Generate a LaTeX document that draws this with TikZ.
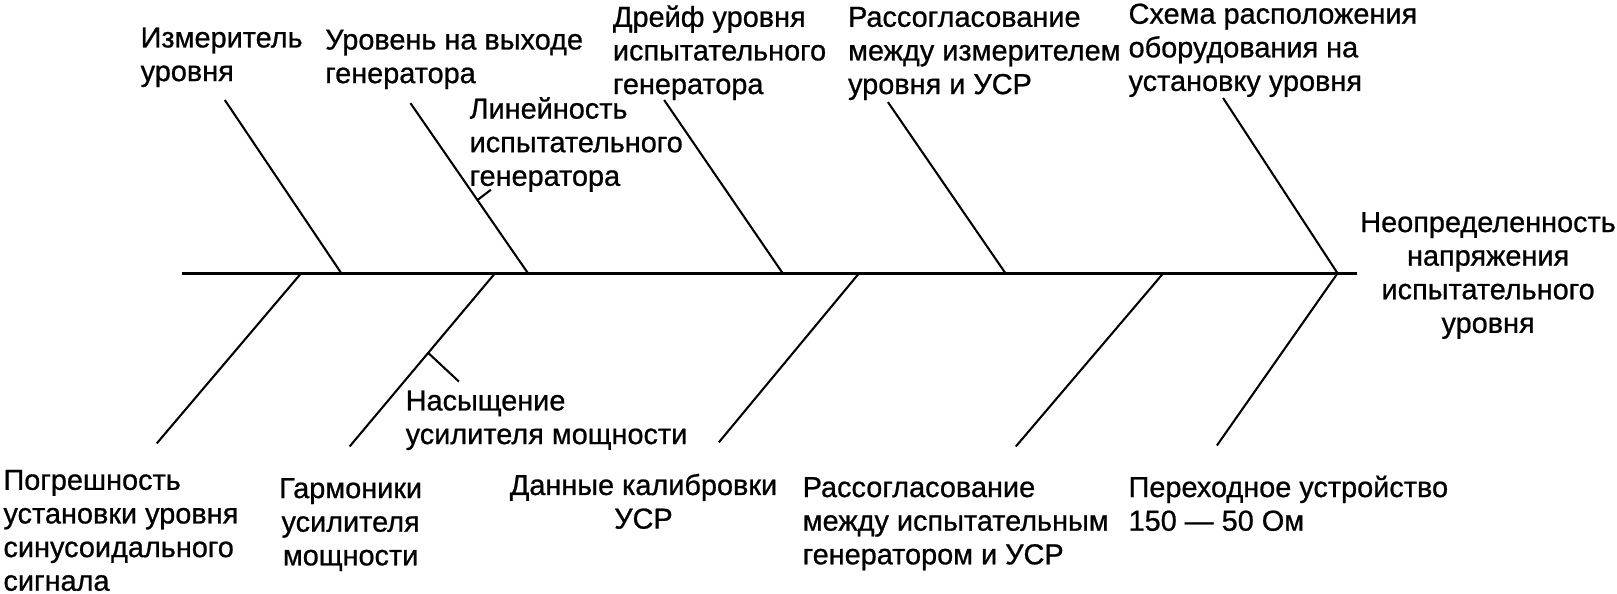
\documentclass[tikz,border=0pt]{standalone}
\usepackage{fontspec}
\setmainfont{Liberation Sans}[FakeBold=0.8]
\tikzset{
  lbl/.style={inner sep=0pt, font=\fontsize{14}{16.3}\selectfont},
  spine/.style={line width=1.5pt},
  rib/.style={line width=1pt},
}
\newcommand{\tl}[1]{\begin{tabular}[t]{@{}l@{}}#1\end{tabular}}
\newcommand{\tc}[1]{\begin{tabular}[t]{@{}c@{}}#1\end{tabular}}
\begin{document}
\begin{tikzpicture}[x=0.5pt,y=-0.5pt]
\useasboundingbox (0,0) rectangle (1568,576);
% labels
\node[lbl,anchor=base west] (L1) at (136,46) {\tl{Измеритель\\уровня}};
\node[lbl,anchor=base west] (L2) at (315,48) {\tl{Уровень на выходе\\генератора}};
\node[lbl,anchor=base west] (L3) at (455,115) {\tl{Линейность\\испытательного\\генератора}};
\node[lbl,anchor=base west] (L4) at (594,26) {\tl{Дрейф уровня\\испытательного\\генератора}};
\node[lbl,anchor=base west] (L5) at (822,26) {\tl{Рассогласование\\между измерителем\\уровня и УСР}};
\node[lbl,anchor=base west] (L6) at (1094,23) {\tl{Схема расположения\\оборудования на\\установку уровня}};
\node[lbl,anchor=base] (L7) at (1443,225) {\tc{Неопределенность\\напряжения\\испытательного\\уровня}};
\node[lbl,anchor=base west] (L8) at (3,475) {\tl{Погрешность\\установки уровня\\синусоидального\\сигнала}};
\node[lbl,anchor=base] (L9) at (340,483) {\tc{Гармоники\\усилителя\\мощности}};
\node[lbl,anchor=base west] (L10) at (393,398) {\tl{Насыщение\\усилителя мощности}};
\node[lbl,anchor=base] (L11) at (624,480) {\tc{Данные калибровки\\УСР}};
\node[lbl,anchor=base west] (L12) at (778,482) {\tl{Рассогласование\\между испытательным\\генератором и УСР}};
\node[lbl,anchor=base west] (L13) at (1094,482) {\tl{Переходное устройство\\150 — 50 Ом}};
% spine
\coordinate (tail) at (176,265);
\coordinate (head) at (1316,265);
\draw[spine] (tail) -- (head);
% upper ribs
\coordinate (u1a) at (218,97);  \coordinate (u1b) at (331,265);
\coordinate (u2a) at (398,100); \coordinate (u2b) at (512,265);
\coordinate (u3a) at (644,97);  \coordinate (u3b) at (759,265);
\coordinate (u4a) at (861,99);  \coordinate (u4b) at (975,265);
\coordinate (u5a) at (1186,95); \coordinate (u5b) at (1297,265);
\coordinate (s1a) at (463,194); \coordinate (s1b) at (476,184);
\draw[rib] (u1a) -- (u1b);
\draw[rib] (u2a) -- (u2b);
\draw[rib] (u3a) -- (u3b);
\draw[rib] (u4a) -- (u4b);
\draw[rib] (u5a) -- (u5b);
\draw[rib] (s1a) -- (s1b);
% lower ribs
\coordinate (d1a) at (152,430);  \coordinate (d1b) at (292,265);
\coordinate (d2a) at (339,433);  \coordinate (d2b) at (480,265);
\coordinate (d3a) at (697,429);  \coordinate (d3b) at (833,265);
\coordinate (d4a) at (985,433);  \coordinate (d4b) at (1128,265);
\coordinate (d5a) at (1180,432); \coordinate (d5b) at (1297,265);
\coordinate (s2a) at (415,342);  \coordinate (s2b) at (445,370);
\draw[rib] (d1a) -- (d1b);
\draw[rib] (d2a) -- (d2b);
\draw[rib] (d3a) -- (d3b);
\draw[rib] (d4a) -- (d4b);
\draw[rib] (d5a) -- (d5b);
\draw[rib] (s2a) -- (s2b);
\end{tikzpicture}
\end{document}
